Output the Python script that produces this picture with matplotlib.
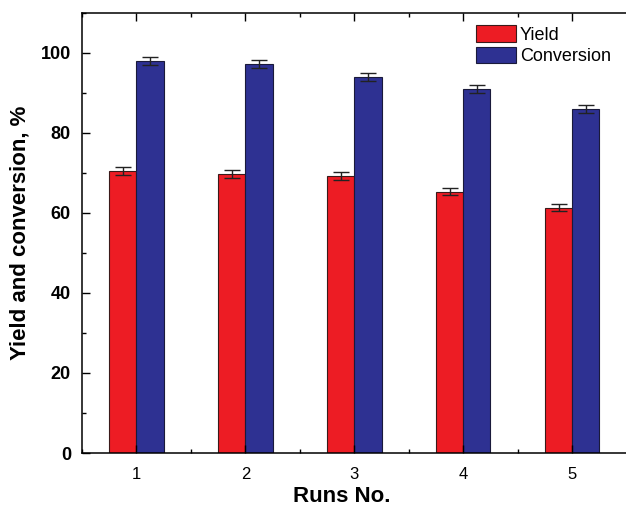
import numpy as np
import matplotlib
matplotlib.use('Agg')
import matplotlib.pyplot as plt
from matplotlib.ticker import MultipleLocator

plt.rcParams['font.family'] = ['Liberation Sans', 'DejaVu Sans']

runs = [1, 2, 3, 4, 5]
yield_vals = [70.5, 69.6, 69.2, 65.3, 61.3]
yield_err = [1.0, 1.0, 1.0, 0.8, 0.8]
conv_vals = [98.0, 97.2, 94.0, 91.0, 86.0]
conv_err = [1.0, 1.0, 1.0, 1.0, 1.0]

red = '#ED1C24'
blue = '#2E3192'
width = 0.25

fig = plt.figure(figsize=(6.26, 5.09), dpi=100)
ax = fig.add_axes([0.131, 0.110, 0.870, 0.865])

x = np.array(runs)
ax.bar(x - width / 2, yield_vals, width, yerr=yield_err, color=red,
       edgecolor='#3a1a1a', linewidth=0.8, label='Yield',
       error_kw=dict(ecolor='#222222', elinewidth=1.0, capsize=6, capthick=1.0))
ax.bar(x + width / 2, conv_vals, width, yerr=conv_err, color=blue,
       edgecolor='#1a1a3a', linewidth=0.8, label='Conversion',
       error_kw=dict(ecolor='#222222', elinewidth=1.0, capsize=6, capthick=1.0))

ax.set_xlim(0.5, 5.5)
ax.set_ylim(0, 110)
ax.set_xticks(runs)
ax.xaxis.set_minor_locator(MultipleLocator(0.5))
ax.yaxis.set_major_locator(MultipleLocator(20))
ax.yaxis.set_minor_locator(MultipleLocator(10))

ax.tick_params(which='both', direction='in', top=True, right=False, width=1.0)
ax.tick_params(which='major', length=6)
ax.tick_params(which='minor', length=3)
ax.tick_params(axis='x', labelsize=12, pad=10)
ax.tick_params(axis='y', labelsize=13, pad=8)
for lbl in ax.get_yticklabels():
    lbl.set_fontweight('bold')

for side in ['left', 'bottom', 'top']:
    ax.spines[side].set_linewidth(1.1)
ax.spines['right'].set_visible(False)

ax.set_xlabel('Runs No.', fontsize=16, fontweight='bold')
ax.xaxis.set_label_coords(0.477, -0.075)
ax.set_ylabel('Yield and conversion, %', fontsize=16, fontweight='bold', labelpad=7)

ax.legend(loc='upper left', bbox_to_anchor=(0.7235, 0.972), frameon=False,
          fontsize=13, handlelength=2.2, handleheight=1.05, handletextpad=0.22,
          labelspacing=0.17, borderaxespad=0, borderpad=0)

fig.savefig('out.png', dpi=100)
